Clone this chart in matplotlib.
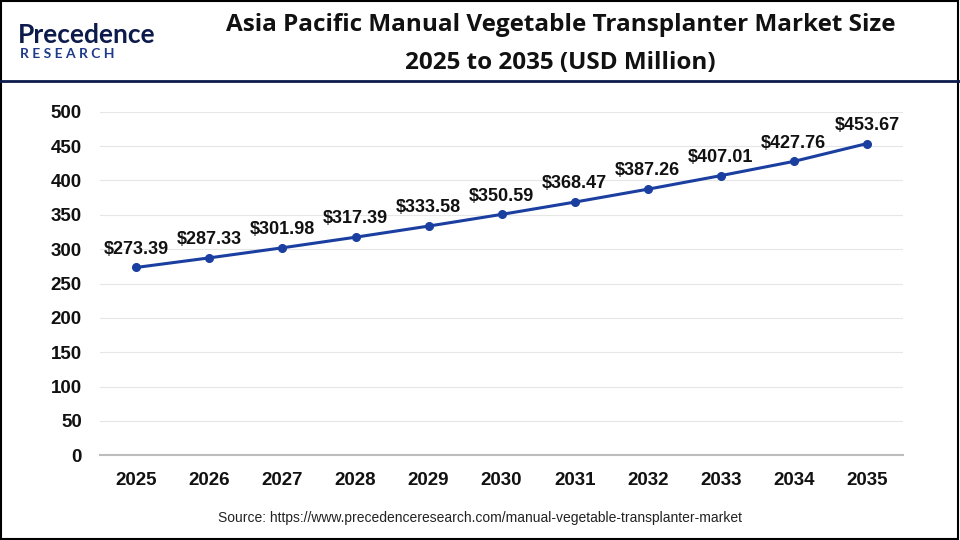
import matplotlib
matplotlib.use('Agg')
import matplotlib.pyplot as plt
from matplotlib.patches import Rectangle
from matplotlib.lines import Line2D

years = ['2025', '2026', '2027', '2028', '2029', '2030', '2031', '2032', '2033', '2034', '2035']
values = [273.39, 287.33, 301.98, 317.39, 333.58, 350.59, 368.47, 387.26, 407.01, 427.76, 453.67]
y_ticks = [0, 50, 100, 150, 200, 250, 300, 350, 400, 450, 500]

line_color = '#1b3fa0'
navy = '#0d1b4c'

fig = plt.figure(figsize=(9.6, 5.4), dpi=100)
ax = fig.add_axes([0.104, 0.157, 0.837, 0.636])

xs = list(range(len(years)))
ax.plot(xs, values, color=line_color, linewidth=2.2, marker='o', markersize=5.5, zorder=3)
for x, v in zip(xs, values):
    ax.annotate('${:.2f}'.format(v), (x, v), xytext=(0, 7), textcoords='offset points',
                ha='center', va='bottom', fontsize=13, fontweight='bold',
                family='Liberation Sans', color='#111111')

ax.set_xlim(-0.5, len(years) - 0.5)
ax.set_ylim(0, 500)
ax.set_xticks(xs)
ax.set_xticklabels(years)
ax.set_yticks(y_ticks)
for lab in ax.get_xticklabels() + ax.get_yticklabels():
    lab.set_family('Liberation Sans')
    lab.set_fontweight('bold')
    lab.set_fontsize(13.5)
    lab.set_color('#111111')
ax.tick_params(axis='both', length=0)
ax.tick_params(axis='x', pad=12)
ax.tick_params(axis='y', pad=13)

ax.grid(axis='y', color='#e6e6e6', linewidth=0.8)
ax.set_axisbelow(True)
for s in ['top', 'right', 'left']:
    ax.spines[s].set_visible(False)
ax.spines['bottom'].set_color('#bdbdbd')
ax.spines['bottom'].set_linewidth(1.5)

# title
fig.text(0.584, 0.954, 'Asia Pacific Manual Vegetable Transplanter Market Size',
         ha='center', va='center', fontsize=17.5, fontweight='bold', family='Open Sans', color='#111111')
fig.text(0.584, 0.884, '2025 to 2035 (USD Million)',
         ha='center', va='center', fontsize=17.5, fontweight='bold', family='Open Sans', color='#111111')

# logo
fig.text(0.019, 0.936, 'Precedence', ha='left', va='center', fontsize=19,
         fontweight='bold', family='Lato', color=navy)
fig.text(0.021, 0.900, 'R E S E A R C H', ha='left', va='center', fontsize=10,
         fontweight='bold', family='Lato', color='#1f3a8a')

# header separator
fig.add_artist(Line2D([0, 1], [0.85, 0.85], transform=fig.transFigure, color=navy, linewidth=2))

# source
fig.text(0.5, 0.04, 'Source: https://www.precedenceresearch.com/manual-vegetable-transplanter-market',
         ha='center', va='center', fontsize=10, family='Liberation Sans', color='#222222')

# border
fig.add_artist(Rectangle((0.001, 0.002), 0.997, 0.996, transform=fig.transFigure,
                         fill=False, edgecolor='black', linewidth=1.5))

fig.savefig('out.png', dpi=100)
